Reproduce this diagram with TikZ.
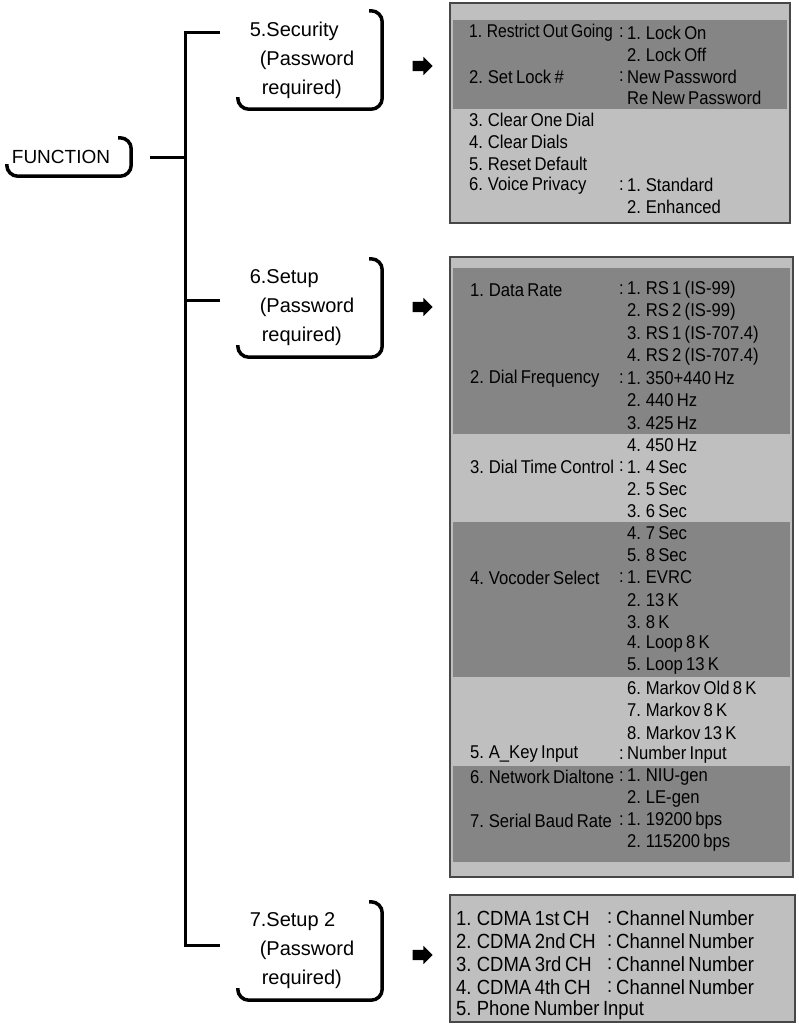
\documentclass[tikz,border=0pt]{standalone}
\usepackage{fontspec}
\setmainfont{Liberation Sans}
\newfontfamily\panelfont[FakeStretch=0.9, WordSpace=0.7]{Liberation Sans}
\usetikzlibrary{positioning, shapes.arrows, calc}

\definecolor{panellight}{gray}{0.75}
\definecolor{paneldark}{gray}{0.52}
\definecolor{paneledge}{gray}{0.28}

\begin{document}
\begin{tikzpicture}[
    x=1pt, y=-1pt,
    every node/.style={inner sep=0pt},
    menu/.style={minimum width=160pt, minimum height=98pt, align=left, font=\fontsize{20}{29}\selectfont},
    bracket/.style={line width=3.5pt, rounded corners=11pt},
    treeline/.style={line width=3pt},
    panel/.style={fill=panellight, draw=paneledge, line width=1.2pt},
    band/.style={fill=paneldark},
    item/.style={anchor=west, font=\panelfont\fontsize{18.5}{21}\selectfont},
    bigitem/.style={anchor=west, font=\panelfont\fontsize{20.5}{23}\selectfont},
    goarrow/.style={single arrow, fill=black, inner xsep=6pt, inner ysep=5pt, minimum height=20pt,
        single arrow head extend=4pt, single arrow head indent=0pt},
]
\useasboundingbox (0,0) rectangle (799,1025);

% ── Menu nodes ──
\node[menu, minimum width=140pt, minimum height=38pt, font=\fontsize{19}{22}\selectfont]
    (func) at (61,157) {FUNCTION};
\node[menu] (secur) at (302,60) {5.Security\\\hspace*{10pt}(Password\\\hspace*{12pt}required)};
\node[menu] (setup) at (302,308) {6.Setup\\\hspace*{10pt}(Password\\\hspace*{12pt}required)};
\node[menu] (setupb) at (302,951) {7.Setup 2\\\hspace*{10pt}(Password\\\hspace*{12pt}required)};

\foreach \n in {func, secur, setup, setupb}
    \draw[bracket] ([xshift=-13pt]\n.north east) -- (\n.north east) -- (\n.south east)
        -- ([xshift=16pt]\n.south west) -- ([xshift=16pt, yshift=12pt]\n.south west);

% ── Tree ──
\coordinate (jtop) at (185,33);
\coordinate (jfunc) at (185,157);
\coordinate (jsetup) at (185,300);
\coordinate (jbot) at (185,945);

\draw[treeline, shorten <=2pt, shorten >=2pt]
    (jtop -| secur.west) -- (jtop) -- (jbot) -- (jbot -| setupb.west);
\draw[treeline, shorten <=19pt] (func.east) -- (jfunc);
\draw[treeline, shorten >=2pt] (jsetup) -- (jsetup -| setup.west);

% ── Arrows ──
\node[goarrow] (arrsec) at (420,66) {};
\node[goarrow] (arrset) at (420,307) {};
\node[goarrow] (arrsetb) at (420,955) {};

% ── Security panel ──
\node[panel, minimum width=340pt, minimum height=220pt] (secbox) at (620,113) {};
\fill[band] (453,20) rectangle (787,109);

\foreach \k/\v [count=\i from 0] in {
    {\scalebox{0.94}[1]{1. Restrict Out Going}}/{1. Lock On}, {}/{2. Lock Off},
    {2. Set Lock \#}/{New Password}, {}/{Re New Password},
    {3. Clear One Dial}/{}, {4. Clear Dials}/{}, {5. Reset Default}/{},
    {6. Voice Privacy}/{1. Standard}, {}/{2. Enhanced}} {
    \node[item, name=sk\i] at (469, 33+21.75*\i) {\k};
    \node[item, name=sv\i] at (627, 33+21.75*\i) {\v};
}
\foreach \i in {0,2,7}
    \node[item, name=sc\i] at (619, 33+21.75*\i) {:};

% ── Setup panel ──
\node[panel, minimum width=343pt, minimum height=620pt] (setbox) at (621.5,567) {};
\fill[band] (453,268) rectangle (790,434);
\fill[band] (453,522) rectangle (790,677);
\fill[band] (453,766) rectangle (790,862);

\foreach \k/\v [count=\i from 0] in {
    {1. Data Rate}/{1. RS 1 (IS-99)}, {}/{2. RS 2 (IS-99)},
    {}/{3. RS 1 (IS-707.4)}, {}/{4. RS 2 (IS-707.4)},
    {2. Dial Frequency}/{1. 350+440 Hz}, {}/{2. 440 Hz}, {}/{3. 425 Hz}, {}/{4. 450 Hz},
    {3. Dial Time Control}/{1. 4 Sec}, {}/{2. 5 Sec}, {}/{3. 6 Sec}, {}/{4. 7 Sec}, {}/{5. 8 Sec},
    {4. Vocoder Select}/{1. EVRC}, {}/{2. 13 K}, {}/{3. 8 K}, {}/{4. Loop 8 K},
    {}/{5. Loop 13 K}, {}/{6. Markov Old 8 K}, {}/{7. Markov 8 K}, {}/{8. Markov 13 K},
    {5. A\_Key Input}/{Number Input},
    {6. Network Dialtone}/{1. NIU-gen}, {}/{2. LE-gen},
    {7. Serial Baud Rate}/{1. 19200 bps}, {}/{2. 115200 bps}} {
    \node[item, name=tk\i] at (470, 290+22.12*\i) {\k};
    \node[item, name=tv\i] at (627, 290+22.12*\i) {\v};
}
\foreach \i in {0,4,8,13,21,22,24}
    \node[item, name=tc\i] at (619, 290+22.12*\i) {:};

% ── Setup 2 panel ──
\node[panel, minimum width=345pt, minimum height=127pt] (setbbox) at (622.5,958.5) {};

\foreach \k/\v [count=\i from 0] in {
    {1. CDMA 1st CH}/{Channel Number}, {2. CDMA 2nd CH}/{Channel Number},
    {3. CDMA 3rd CH}/{Channel Number}, {4. CDMA 4th CH}/{Channel Number},
    {5. Phone Number Input}/{}} {
    \node[bigitem, name=uk\i] at (456, 918+23*\i) {\k};
    \node[bigitem, name=uv\i] at (616, 918+23*\i) {\v};
}
\foreach \i in {0,1,2,3}
    \node[bigitem, name=uc\i] at (607, 918+23*\i) {:};

\end{tikzpicture}
\end{document}
